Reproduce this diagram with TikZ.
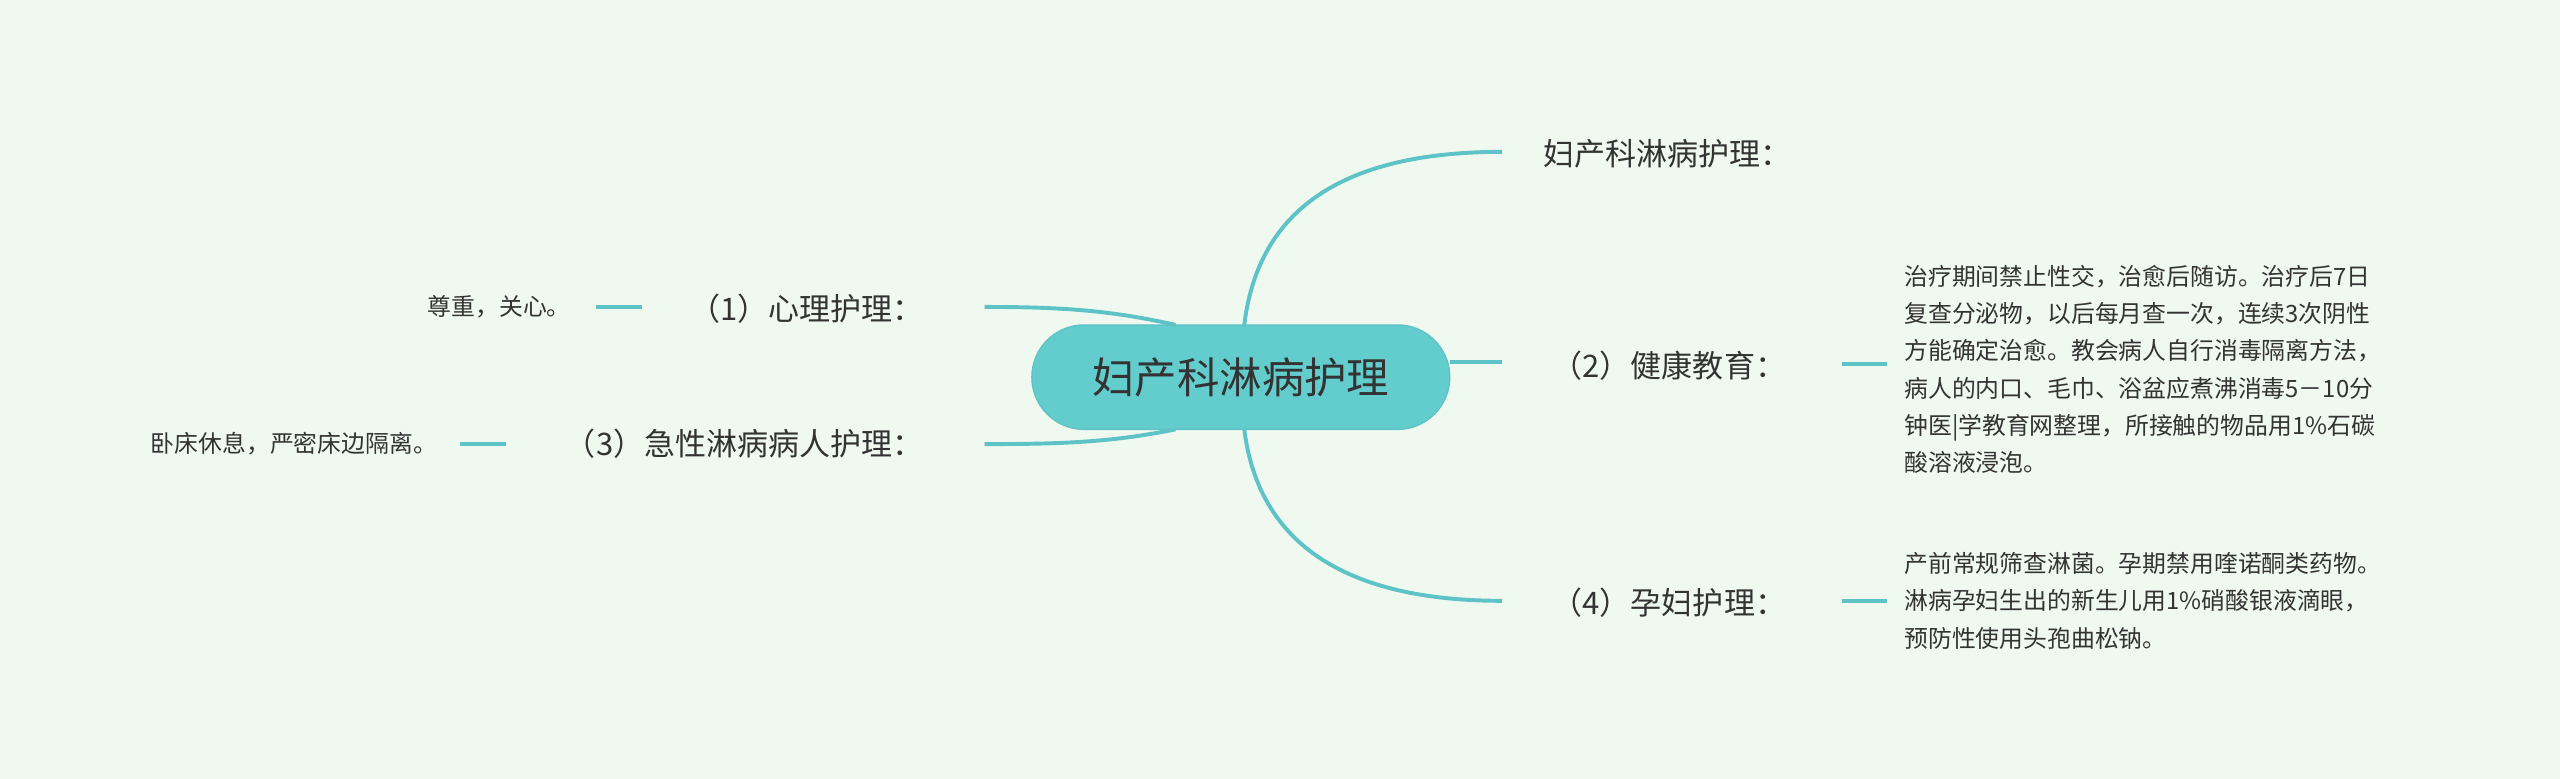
\documentclass[tikz,border=0pt]{standalone}
\usepackage{fontspec}
\setmainfont{Noto Sans CJK SC}
\definecolor{bg}{HTML}{F0F9EF}
\definecolor{ln}{HTML}{5EC3C6}
\definecolor{cn}{HTML}{63CCCC}
\definecolor{tx}{HTML}{333333}
\begin{document}
\begin{tikzpicture}[x=0.5pt,y=-0.5pt,
  conn/.style={draw=ln,line width=1.2pt},
  lbl/.style={font=\fontsize{9.5}{12}\selectfont,text=tx,inner sep=0pt},
  leaf/.style={font=\fontsize{7.3}{11.4}\selectfont,text=tx,inner sep=0pt,align=left}]
\fill[bg] (0,0) rectangle (1568,477);
\useasboundingbox (0,0) rectangle (1568,477);
\node[fill=cn,draw=ln,rounded corners=16pt,minimum width=128pt,minimum height=32pt,font=\fontsize{13}{15}\selectfont,text=tx] (c) at (760,231) {妇产科淋病护理};
% right
\node[lbl,anchor=west] (r1) at (945,94) {妇产科淋病护理：};
\node[lbl,anchor=west] (r2) at (950,224) {（2）健康教育：};
\node[lbl,anchor=west] (r4) at (950,369) {（4）孕妇护理：};
\coordinate (e1) at (920,93);
\coordinate (e2) at (920,222);
\coordinate (e4) at (920,368);
\draw[conn] (762,200) .. controls (770,130) and (820,93) .. (e1);
\draw[conn] (888,222) -- (e2);
\draw[conn] (762,262) .. controls (770,330) and (820,368) .. (e4);
\node[leaf,anchor=north west] (t2) at (1166,162) {治疗期间禁止性交，治愈后随访。治疗后7日\\复查分泌物，以后每月查一次，连续3次阴性\\方能确定治愈。教会病人自行消毒隔离方法，\\病人的内口、毛巾、浴盆应煮沸消毒5－10分\\钟医|学教育网整理，所接触的物品用1\%石碳\\酸溶液浸泡。};
\node[leaf,anchor=north west] (t4) at (1166,338) {产前常规筛查淋菌。孕期禁用喹诺酮类药物。\\淋病孕妇生出的新生儿用1\%硝酸银液滴眼，\\预防性使用头孢曲松钠。};
\draw[conn] (1128,223) -- (1156,223);
\draw[conn] (1128,368) -- (1156,368);
% left
\node[lbl,anchor=east] (l1) at (566,189) {（1）心理护理：};
\node[lbl,anchor=east] (l3) at (566,272) {（3）急性淋病病人护理：};
\coordinate (f1) at (603,188);
\coordinate (f3) at (603,272);
\draw[conn] (720,199) .. controls (680,190) and (650,188) .. (f1);
\draw[conn] (720,263) .. controls (680,271) and (650,272) .. (f3);
\node[leaf,anchor=east] (s1) at (350,188) {尊重，关心。};
\node[leaf,anchor=east] (s3) at (268,272) {卧床休息，严密床边隔离。};
\draw[conn] (365,188) -- (393,188);
\draw[conn] (282,272) -- (310,272);
\end{tikzpicture}
\end{document}
